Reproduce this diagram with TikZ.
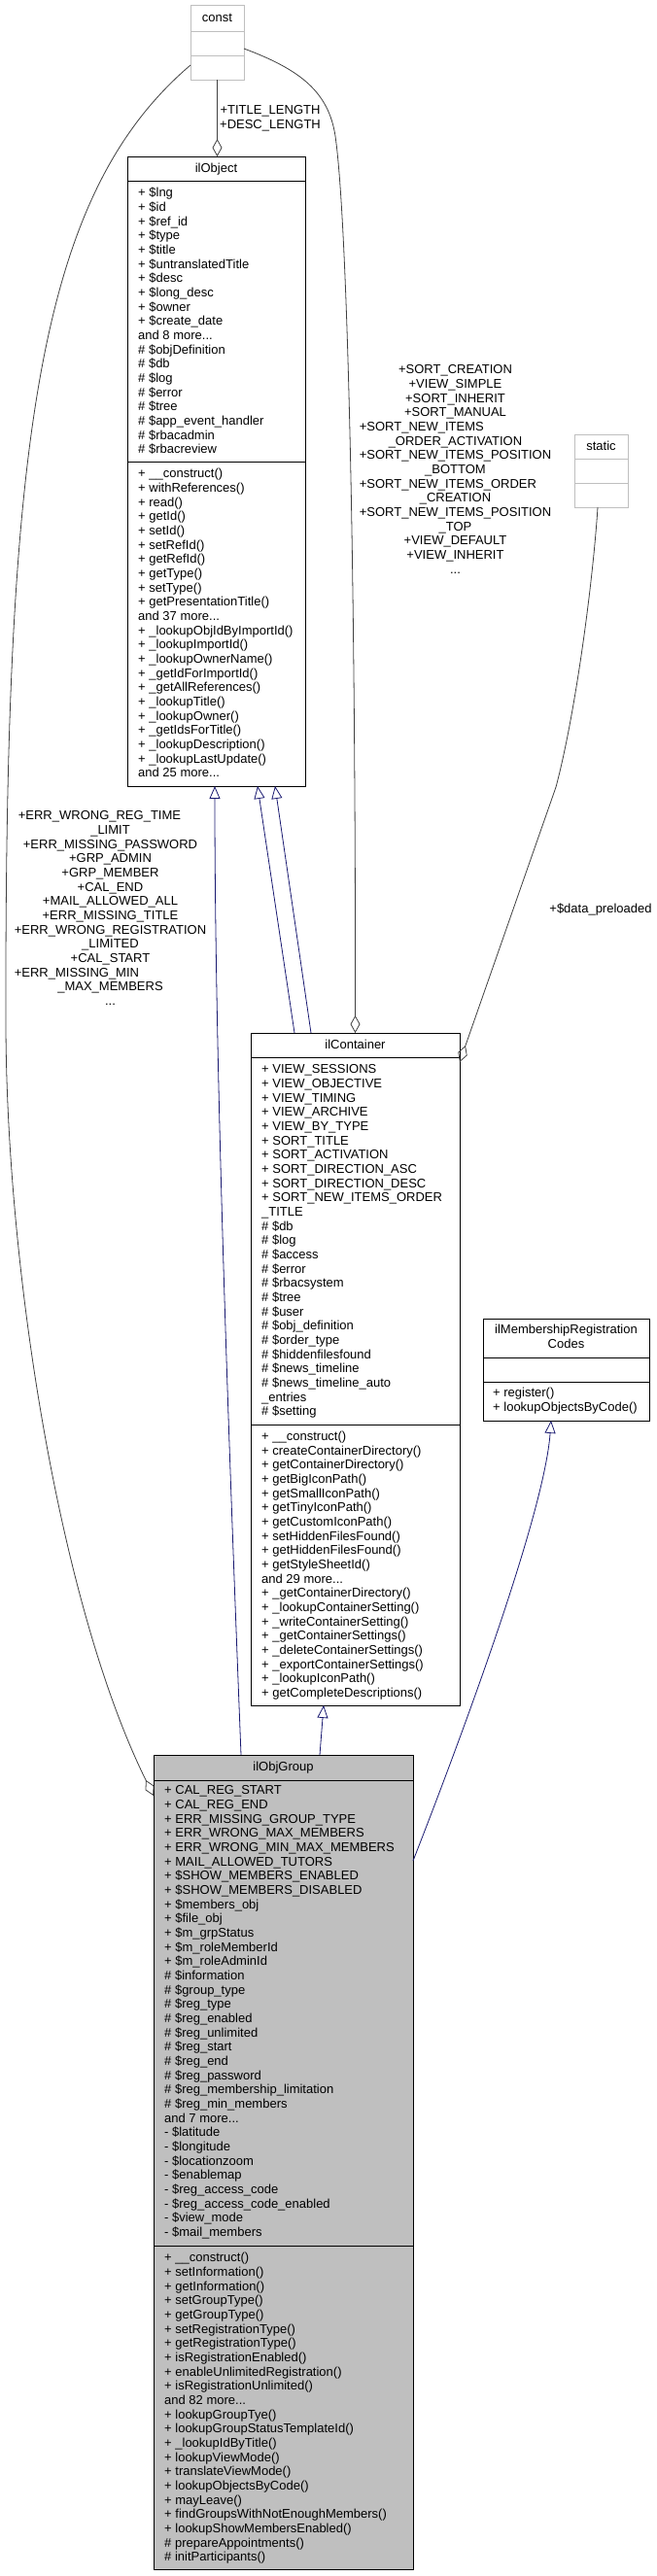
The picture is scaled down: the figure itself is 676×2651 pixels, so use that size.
\documentclass[tikz,border=0pt]{standalone}
\usepackage{fontspec}
\setmainfont{Liberation Sans}
\usepackage{calc}
\usetikzlibrary{arrows.meta}
\definecolor{edgeblue}{HTML}{191970}
\definecolor{edgegray}{HTML}{404040}
\definecolor{boxgray}{HTML}{BFBFBF}
\newcommand\dfs{\fontsize{13}{14.67}\selectfont}
\newcommand\LW[2]{\makebox[\widthof{#1}][l]{#2}}
\begin{document}
\begin{tikzpicture}[x=1pt,y=-1pt,
  classbox/.style={draw=black, line width=1pt, inner sep=0pt, outer sep=0pt, anchor=north west},
  grayclass/.style={classbox, draw=boxgray},
  sepline/.style={draw=black, line width=1pt},
  graysep/.style={draw=boxgray, line width=1pt},
  members/.style={anchor=north west, inner sep=0pt, align=left, font=\dfs},
  ctitle/.style={anchor=base, inner sep=0pt, align=center, font=\dfs},
  elabel/.style={anchor=north, inner sep=0pt, align=center, font=\dfs},
  inh/.style={draw=edgeblue, line width=0.8pt, -{Triangle[open, length=13pt, width=11pt]}},
  agg/.style={draw=edgegray, line width=0.8pt, -{Diamond[open, length=18pt, width=10pt]}}
]
\useasboundingbox (0,0) rectangle (676,2651);

% ---------------- const
\node[grayclass, minimum width=55pt, minimum height=77pt] (const) at (196,5) {};
\draw[graysep] (196,32) -- (251,32);
\draw[graysep] (196,57) -- (251,57);
\node[ctitle] (const-t) at (223.5,22) {const};

% ---------------- static
\node[grayclass, minimum width=55pt, minimum height=75pt] (static) at (591,447) {};
\draw[graysep] (591,472) -- (646,472);
\draw[graysep] (591,497) -- (646,497);
\node[ctitle] (static-t) at (618.5,463) {static};

% ---------------- ilObject
\node[classbox, minimum width=183pt, minimum height=648pt] (ilObject) at (131,161) {};
\draw[sepline] (131,186) -- (314,186);
\draw[sepline] (131,475) -- (314,475);
\node[ctitle] (ilObject-t) at (222.5,177.5) {ilObject};
\node[members] (ilObject-a) at (142,192.2) {\strut+ \$lng\\
+ \$id\\
+ \$ref\_id\\
+ \$type\\
+ \$title\\
+ \$untranslatedTitle\\
+ \$desc\\
+ \$long\_desc\\
+ \$owner\\
+ \$create\_date\\
and 8 more...\\
\# \$objDefinition\\
\# \$db\\
\# \$log\\
\# \$error\\
\# \$tree\\
\# \$app\_event\_handler\\
\# \$rbacadmin\\
\# \$rbacreview};
\node[members] (ilObject-m) at (142,481.2) {\strut+ \_\_construct()\\
+ withReferences()\\
+ read()\\
+ getId()\\
+ setId()\\
+ setRefId()\\
+ getRefId()\\
+ getType()\\
+ setType()\\
+ getPresentationTitle()\\
and 37 more...\\
+ \_lookupObjIdByImportId()\\
+ \_lookupImportId()\\
+ \_lookupOwnerName()\\
+ \_getIdForImportId()\\
+ \_getAllReferences()\\
+ \_lookupTitle()\\
+ \_lookupOwner()\\
+ \_getIdsForTitle()\\
+ \_lookupDescription()\\
+ \_lookupLastUpdate()\\
and 25 more...};

% ---------------- ilContainer
\node[classbox, minimum width=215pt, minimum height=692pt] (ilContainer) at (258,1063) {};
\draw[sepline] (258,1088) -- (473,1088);
\draw[sepline] (258,1466) -- (473,1466);
\node[ctitle] (ilContainer-t) at (365.5,1079) {ilContainer};
\node[members] (ilContainer-a) at (269,1094.2) {\strut+ VIEW\_SESSIONS\\
+ VIEW\_OBJECTIVE\\
+ VIEW\_TIMING\\
+ VIEW\_ARCHIVE\\
+ VIEW\_BY\_TYPE\\
+ SORT\_TITLE\\
+ SORT\_ACTIVATION\\
+ SORT\_DIRECTION\_ASC\\
+ SORT\_DIRECTION\_DESC\\
+ SORT\_NEW\_ITEMS\_ORDER\\
\_TITLE\\
\# \$db\\
\# \$log\\
\# \$access\\
\# \$error\\
\# \$rbacsystem\\
\# \$tree\\
\# \$user\\
\# \$obj\_definition\\
\# \$order\_type\\
\# \$hiddenfilesfound\\
\# \$news\_timeline\\
\# \$news\_timeline\_auto\\
\_entries\\
\# \$setting};
\node[members] (ilContainer-m) at (269,1472) {\strut+ \_\_construct()\\
+ createContainerDirectory()\\
+ getContainerDirectory()\\
+ getBigIconPath()\\
+ getSmallIconPath()\\
+ getTinyIconPath()\\
+ getCustomIconPath()\\
+ setHiddenFilesFound()\\
+ getHiddenFilesFound()\\
+ getStyleSheetId()\\
and 29 more...\\
+ \_getContainerDirectory()\\
+ \_lookupContainerSetting()\\
+ \_writeContainerSetting()\\
+ \_getContainerSettings()\\
+ \_deleteContainerSettings()\\
+ \_exportContainerSettings()\\
+ \_lookupIconPath()\\
+ getCompleteDescriptions()};

% ---------------- ilMembershipRegistrationCodes
\node[classbox, minimum width=171pt, minimum height=105pt] (ilMRC) at (497,1357) {};
\draw[sepline] (497,1397) -- (668,1397);
\draw[sepline] (497,1422) -- (668,1422);
\node[elabel] (ilMRC-t) at (582.5,1362.2) {\strut ilMembershipRegistration\\Codes};
\node[members] (ilMRC-m) at (507,1427.2) {\strut+ register()\\
+ lookupObjectsByCode()};

% ---------------- ilObjGroup
\node[classbox, fill=boxgray, minimum width=267pt, minimum height=838pt] (ilObjGroup) at (158,1806) {};
\draw[sepline] (158,1832) -- (425,1832);
\draw[sepline] (158,2311) -- (425,2311);
\node[ctitle] (ilObjGroup-t) at (291.5,1822) {ilObjGroup};
\node[members] (ilObjGroup-a) at (169,1836.2) {\strut+ CAL\_REG\_START\\
+ CAL\_REG\_END\\
+ ERR\_MISSING\_GROUP\_TYPE\\
+ ERR\_WRONG\_MAX\_MEMBERS\\
+ ERR\_WRONG\_MIN\_MAX\_MEMBERS\\
+ MAIL\_ALLOWED\_TUTORS\\
+ \$SHOW\_MEMBERS\_ENABLED\\
+ \$SHOW\_MEMBERS\_DISABLED\\
+ \$members\_obj\\
+ \$file\_obj\\
+ \$m\_grpStatus\\
+ \$m\_roleMemberId\\
+ \$m\_roleAdminId\\
\# \$information\\
\# \$group\_type\\
\# \$reg\_type\\
\# \$reg\_enabled\\
\# \$reg\_unlimited\\
\# \$reg\_start\\
\# \$reg\_end\\
\# \$reg\_password\\
\# \$reg\_membership\_limitation\\
\# \$reg\_min\_members\\
and 7 more...\\
- \$latitude\\
- \$longitude\\
- \$locationzoom\\
- \$enablemap\\
- \$reg\_access\_code\\
- \$reg\_access\_code\_enabled\\
- \$view\_mode\\
- \$mail\_members};
\node[members] (ilObjGroup-m) at (169,2317.2) {\strut+ \_\_construct()\\
+ setInformation()\\
+ getInformation()\\
+ setGroupType()\\
+ getGroupType()\\
+ setRegistrationType()\\
+ getRegistrationType()\\
+ isRegistrationEnabled()\\
+ enableUnlimitedRegistration()\\
+ isRegistrationUnlimited()\\
and 82 more...\\
+ lookupGroupTye()\\
+ lookupGroupStatusTemplateId()\\
+ \_lookupIdByTitle()\\
+ lookupViewMode()\\
+ translateViewMode()\\
+ lookupObjectsByCode()\\
+ mayLeave()\\
+ findGroupsWithNotEnoughMembers()\\
+ lookupShowMembersEnabled()\\
\# prepareAppointments()\\
\# initParticipants()};

% ---------------- aggregation connectors
\draw[agg] (const.south) -- (const.south |- ilObject.north);
\draw[agg] ([yshift=-6.5pt]const.east) .. controls (310,72) and (338,95) .. (345,140)
  .. controls (358,230) and (366,600) .. (ilContainer.north);
\draw[agg] ([yshift=-23.5pt]const.west) .. controls (40,200) and (5,450) .. (6,1050)
  .. controls (6,1300) and (60,1650) .. ([yshift=-42pt]ilObjGroup.north west);
\draw[agg] ([xshift=-3.5pt]static.south) .. controls (610,600) and (592,735) .. (572,810)
  -- ([yshift=-30pt]ilContainer.north east);

% ---------------- inheritance connectors
\draw[inh] ([xshift=-43.5pt]ilObjGroup.north) .. controls (236,1500) and (221,1100) .. ([xshift=-1.5pt]ilObject.south);
\draw[inh] ([xshift=-62.5pt]ilContainer.north) -- ([xshift=42.5pt]ilObject.south);
\draw[inh] ([xshift=-45.5pt]ilContainer.north) -- ([xshift=60.5pt]ilObject.south);
\draw[inh] ([xshift=37.5pt]ilObjGroup.north) -- ([xshift=-32.5pt]ilContainer.south);
\draw[inh] ([yshift=-109pt]ilObjGroup.north east) .. controls (470,1800) and (560,1560) .. ([xshift=-15.5pt]ilMRC.south);

% ---------------- edge labels
\node[elabel] (lbl-title) at (278,107.2) {\strut+TITLE\_LENGTH\\+DESC\_LENGTH};
\node[elabel] (lbl-sort) at (468.5,374.2) {\strut+SORT\_CREATION\\
+VIEW\_SIMPLE\\
+SORT\_INHERIT\\
+SORT\_MANUAL\\
\LW{+SORT\_NEW\_ITEMS\_POSITION}{+SORT\_NEW\_ITEMS}\\
\_ORDER\_ACTIVATION\\
+SORT\_NEW\_ITEMS\_POSITION\\
\_BOTTOM\\
\LW{+SORT\_NEW\_ITEMS\_POSITION}{+SORT\_NEW\_ITEMS\_ORDER}\\
\_CREATION\\
+SORT\_NEW\_ITEMS\_POSITION\\
\_TOP\\
+VIEW\_DEFAULT\\
+VIEW\_INHERIT\\
...};
\node[elabel] (lbl-err) at (113.5,833.2) {\strut\LW{+ERR\_WRONG\_REGISTRATION}{\hspace{4pt}+ERR\_WRONG\_REG\_TIME}\\
\_LIMIT\\
+ERR\_MISSING\_PASSWORD\\
+GRP\_ADMIN\\
+GRP\_MEMBER\\
+CAL\_END\\
+MAIL\_ALLOWED\_ALL\\
+ERR\_MISSING\_TITLE\\
+ERR\_WRONG\_REGISTRATION\\
\_LIMITED\\
+CAL\_START\\
\LW{+ERR\_WRONG\_REGISTRATION}{+ERR\_MISSING\_MIN}\\
\_MAX\_MEMBERS\\
...};
\node[elabel] (lbl-data) at (618,929.2) {\strut+\$data\_preloaded};
\end{tikzpicture}
\end{document}
